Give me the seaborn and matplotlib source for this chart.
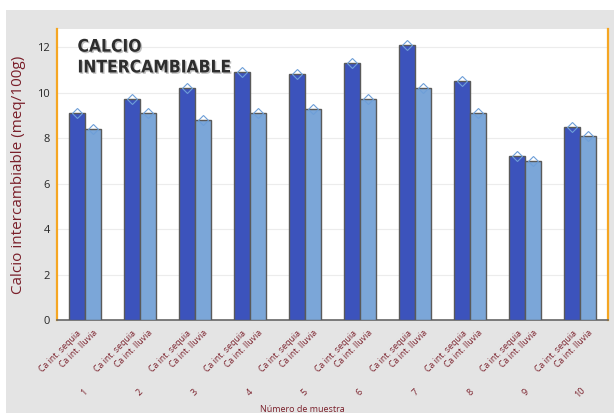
import numpy as np
import pandas as pd
import matplotlib
matplotlib.use("Agg")
import matplotlib.pyplot as plt
import matplotlib.patheffects as pe
from matplotlib.patches import Rectangle
import seaborn as sns

# data
muestras = ["1", "2", "3", "4", "5", "6", "7", "8", "9", "10"]
series = ["Ca int. sequia", "Ca int. lluvia"]
sequia = [9.1, 9.7, 10.2, 10.9, 10.8, 11.3, 12.1, 10.5, 7.2, 8.5]
lluvia = [8.4, 9.1, 8.8, 9.1, 9.3, 9.7, 10.2, 9.1, 7.0, 8.1]

df = pd.DataFrame({
    "muestra": muestras * 2,
    "serie": [series[0]] * len(muestras) + [series[1]] * len(muestras),
    "valor": sequia + lluvia,
})

sns.set_style("white")
plt.rcParams["font.family"] = ["Open Sans", "DejaVu Sans"]

maroon = "#7a1f2a"
orange = "#f5a623"

fig = plt.figure(figsize=(6.14, 4.13), dpi=100, facecolor="#e4e4e4")
fig.patches.append(Rectangle((0, 0.976), 1, 0.03, transform=fig.transFigure,
                             facecolor="white", edgecolor="none", zorder=0))
fig.patches.append(Rectangle((0, 0), 0.01, 1, transform=fig.transFigure,
                             facecolor="white", edgecolor="none", zorder=0))
ax = fig.add_axes([0.093, 0.225, 0.897, 0.705])

sns.barplot(data=df, x="muestra", y="valor", hue="serie", order=muestras,
            hue_order=series, palette=["#3c53bc", "#7ba6d8"], width=0.58,
            edgecolor="#5a5a5a", linewidth=1, saturation=1, ax=ax, zorder=3,
            legend=False)

# bar centres and tops from the drawn patches
bars = [p for p in ax.patches if p.get_height() > 0]
centers = [p.get_x() + p.get_width() / 2 for p in bars]
tops = [p.get_height() for p in bars]
labels = [series[0]] * len(muestras) + [series[1]] * len(muestras)
order = np.argsort(centers)
centers = [centers[i] for i in order]
tops = [tops[i] for i in order]
labels = [labels[i] for i in order]

ax.plot(centers, tops, linestyle="none", marker="D", markersize=5.5,
        markerfacecolor="none", markeredgecolor="#6e9fd8", markeredgewidth=0.8,
        zorder=4)

ax.set_xticks(centers)
ax.set_xticklabels(labels, rotation=45, ha="right", rotation_mode="anchor",
                   fontsize=6.3, color=maroon)
ax.tick_params(axis="x", length=4, width=0.8, color="#333333", pad=2)
ax.set_xlim(-0.5, len(muestras) - 0.5)

# group numbers under the series labels
for i, m in enumerate(muestras):
    ax.text(i, -0.248, m, transform=ax.get_xaxis_transform(), rotation=45,
            ha="center", va="center", fontsize=6.5, color=maroon)

ax.set_xlabel("Número de muestra", fontsize=6.5, color=maroon, labelpad=0)
ax.xaxis.set_label_coords(0.446, -0.29)

ax.set_ylim(0, 12.8)
ax.set_yticks(range(0, 13, 2))
ax.tick_params(axis="y", length=3, width=1, color=orange, labelsize=8, pad=2)
ax.set_ylabel("Calcio intercambiable (meq/100g)", fontsize=11, color=maroon,
              labelpad=8)
ax.yaxis.grid(True, color="#ececec", linewidth=0.8, zorder=0)
ax.set_axisbelow(True)

for side in ["left", "right"]:
    ax.spines[side].set_color(orange)
    ax.spines[side].set_linewidth(1.6)
ax.spines["top"].set_visible(False)
ax.spines["bottom"].set_color("#666666")
ax.spines["bottom"].set_linewidth(1.2)

ax.text(0.037, 0.97, "CALCIO\nINTERCAMBIABLE", transform=ax.transAxes,
        ha="left", va="top", fontsize=12.5, fontweight="black",
        fontstretch="condensed", family="DejaVu Sans", color="#2e2e2e",
        linespacing=1.2, zorder=6,
        path_effects=[pe.withSimplePatchShadow(offset=(1.0, -1.0),
                                               shadow_rgbFace="#b0b0b0",
                                               alpha=0.8)])

fig.savefig("out.png", dpi=100, facecolor=fig.get_facecolor())
